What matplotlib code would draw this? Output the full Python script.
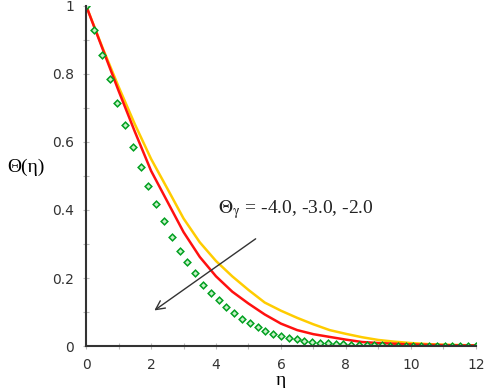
import numpy as np
import matplotlib
matplotlib.use("Agg")
import matplotlib.pyplot as plt
from matplotlib.ticker import MultipleLocator

# green diamonds, eta grid step ~0.24
eta_pts = np.linspace(0, 12, 51)
theta_pts = [1.0, 0.929, 0.856, 0.784, 0.714, 0.649, 0.585, 0.527, 0.471, 0.417,
             0.367, 0.322, 0.280, 0.247, 0.214, 0.181, 0.157, 0.134, 0.115, 0.096,
             0.081, 0.067, 0.055, 0.045, 0.037, 0.030, 0.024, 0.020, 0.016, 0.013,
             0.010, 0.008, 0.006, 0.005, 0.004, 0.003, 0.003, 0.002, 0.002, 0.001,
             0.001, 0.001, 0.001, 0.0, 0.0, 0.0, 0.0, 0.0, 0.0, 0.0, 0.0]

eta_line = np.arange(0, 12.01, 0.5)
theta_red = [1.0, 0.875, 0.75, 0.63, 0.515, 0.425, 0.335, 0.262, 0.205, 0.16,
             0.125, 0.093, 0.066, 0.047, 0.035, 0.027, 0.019, 0.012, 0.009, 0.007,
             0.005, 0.004, 0.003, 0.002, 0.002]
theta_yellow = [1.0, 0.878, 0.762, 0.652, 0.55, 0.463, 0.375, 0.305, 0.25, 0.205,
                0.165, 0.128, 0.104, 0.083, 0.064, 0.047, 0.036, 0.026, 0.018, 0.013,
                0.009, 0.006, 0.004, 0.003, 0.002]

plt.rcParams['mathtext.fontset'] = 'stix'

fig = plt.figure(figsize=(4.84, 3.88), dpi=100)
ax = fig.add_axes([0.178, 0.108, 0.805, 0.877])

ax.plot(eta_line, theta_yellow, color="#FFCC00", lw=1.8)
ax.plot(eta_line, theta_red, color="#FF1010", lw=1.8)
ax.plot(eta_pts, theta_pts, linestyle="none", marker="D", markersize=3.4,
        markerfacecolor="#c8f0c8", markeredgecolor="#00A020", markeredgewidth=1.1)

ax.set_xlim(0, 12)
ax.set_ylim(0, 1)
ax.xaxis.set_minor_locator(MultipleLocator(1))
ax.yaxis.set_minor_locator(MultipleLocator(0.1))
ax.set_xticks([0, 2, 4, 6, 8, 10, 12])
ax.set_xticklabels(["0", "2", "4", "6", "8", "10", "12"])
ax.set_yticks([0, 0.2, 0.4, 0.6, 0.8, 1.0])
ax.set_yticklabels(["0", "0.2", "0.4", "0.6", "0.8", "1"])

for s in ["top", "right"]:
    ax.spines[s].set_visible(False)
for s in ["left", "bottom"]:
    ax.spines[s].set_color("#333333")
    ax.spines[s].set_linewidth(1.5)

ax.tick_params(which="both", direction="inout", color="#bbbbbb", width=0.8,
               labelsize=10, labelcolor="#333333")
ax.tick_params(which="major", length=5, pad=6)
ax.tick_params(which="minor", length=4)

ax.set_xlabel("η", fontsize=14, family="Liberation Serif", va="top")
ax.xaxis.set_label_coords(0.5, -0.075)
ax.set_ylabel("Θ(η)", fontsize=14, rotation=0, family="Liberation Serif")
ax.yaxis.set_label_coords(-0.155, 0.5)

ax.annotate("", xy=(2.03, 0.10), xytext=(5.29, 0.32),
            arrowprops=dict(arrowstyle="->", color="#333333", lw=1.0,
                            mutation_scale=16))
ax.text(4.05, 0.40, r"$\Theta_{\mathrm{γ}}$ = -4.0, -3.0, -2.0", fontsize=14,
        family="Liberation Serif", color="#222222", va="center")

fig.savefig("out.png", dpi=100)
